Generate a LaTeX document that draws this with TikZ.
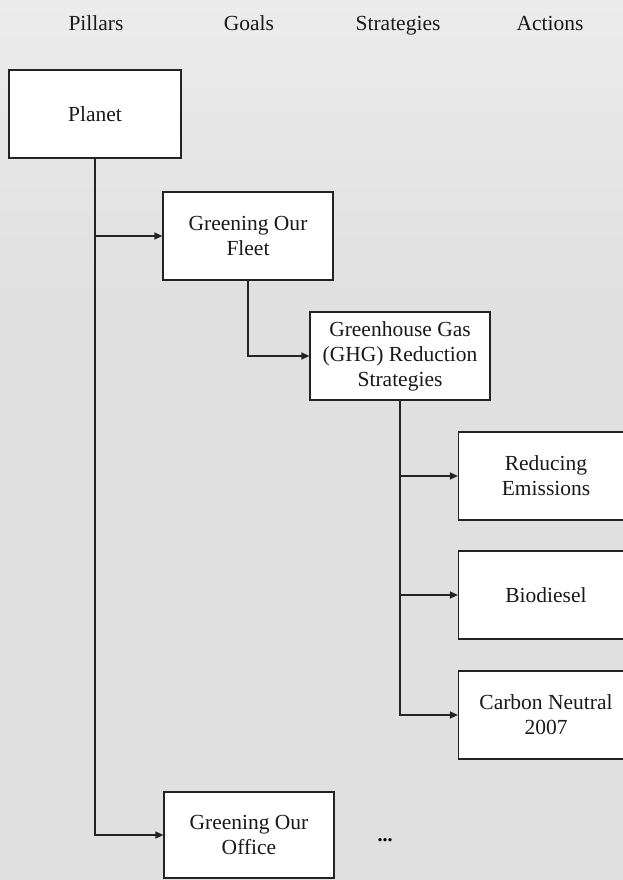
\documentclass[tikz,border=0pt]{standalone}
\usepackage{fontspec}
\setmainfont{Liberation Serif}
\usetikzlibrary{arrows.meta}
\definecolor{bgtop}{RGB}{236,236,236}
\definecolor{bgpaper}{RGB}{224,224,224}
\definecolor{inkline}{RGB}{35,35,35}
\tikzset{
  lbl/.style={font=\fontsize{21.5}{25}\selectfont, text=black!90, anchor=base},
  box/.style={draw=inkline, line width=1.2pt, fill=white, align=center, inner sep=0pt,
              font=\fontsize{21.5}{25}\selectfont, text=black!90},
  conn/.style={draw=inkline, line width=1.3pt},
  arr/.style={conn, -{Triangle[length=8pt,width=7pt]}}
}
\begin{document}
\begin{tikzpicture}[x=1pt,y=-1pt]
\useasboundingbox (0,0) rectangle (623,880);
\fill[bgpaper] (0,0) rectangle (623,880);
\shade[top color=bgtop, bottom color=bgpaper] (0,0) rectangle (623,300);
% headers
\node[lbl] (hp) at (96,31) {Pillars};
\node[lbl] (hg) at (249,31) {Goals};
\node[lbl] (hs) at (398,31) {Strategies};
\node[lbl] (ha) at (550,31) {Actions};
% boxes
\node[box, minimum width=172pt, minimum height=88pt] (planet) at (95,114) {Planet};
\node[box, minimum width=170pt, minimum height=88pt] (fleet) at (248,236) {Greening Our\\Fleet};
\node[box, minimum width=180pt, minimum height=88pt] (ghg) at (400,356) {Greenhouse Gas\\(GHG) Reduction\\Strategies};
\node[box, minimum width=175pt, minimum height=88pt] (red) at (546,476) {Reducing\\Emissions};
\node[box, minimum width=175pt, minimum height=88pt] (bio) at (546,595) {Biodiesel};
\node[box, minimum width=175pt, minimum height=88pt] (carb) at (546,715) {Carbon Neutral\\2007};
\node[box, minimum width=170pt, minimum height=86pt] (office) at (249,835) {Greening Our\\Office};
\node[font=\fontsize{20}{20}\selectfont\bfseries, inner sep=0pt] (dots) at (385,840) {...};
% connectors
\draw[arr] (planet.south) |- (office.west);
\draw[arr] (planet.south |- fleet.west) -- (fleet.west);
\draw[arr] (fleet.south) |- (ghg.west);
\draw[arr] (ghg.south) |- (carb.west);
\draw[arr] (ghg.south |- red.west) -- (red.west);
\draw[arr] (ghg.south |- bio.west) -- (bio.west);
\end{tikzpicture}
\end{document}
